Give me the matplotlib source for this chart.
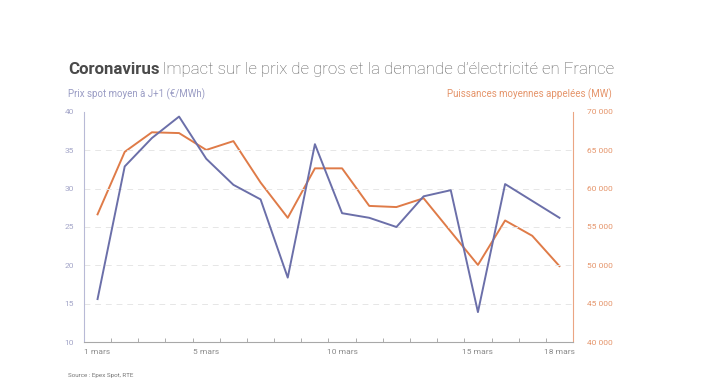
import numpy as np
import matplotlib.pyplot as plt

# données (1 au 18 mars)
jours = ['1 mars', '2 mars', '3 mars', '4 mars', '5 mars', '6 mars', '7 mars', '8 mars', '9 mars',
         '10 mars', '11 mars', '12 mars', '13 mars', '14 mars', '15 mars', '16 mars', '17 mars', '18 mars']
prix_spot = [15.6, 32.9, 36.6, 39.4, 33.9, 30.5, 28.6, 18.4, 35.8,
             26.8, 26.2, 25.0, 29.0, 29.8, 13.9, 30.6, 28.4, 26.2]
puissance = [56650, 64800, 67350, 67250, 65050, 66200, 60800, 56200, 62650,
             62650, 57750, 57600, 58750, 54400, 50050, 55850, 53850, 49900]
labels_affiches = {0: '1 mars', 4: '5 mars', 9: '10 mars', 14: '15 mars', 17: '18 mars'}

BLEU = '#6b6fa9'
ORANGE = '#df7b48'

plt.rcParams['font.family'] = ['Roboto', 'DejaVu Sans']

fig = plt.figure(figsize=(7.27, 3.91), dpi=100)
ax1 = fig.add_axes([0.1155, 0.1253, 0.6727, 0.5883])
ax2 = ax1.twinx()

x = np.arange(len(jours))
ax1.plot(x, prix_spot, color=BLEU, lw=1.4, zorder=3)
ax2.plot(x, puissance, color=ORANGE, lw=1.4, zorder=3)
ax1.set_zorder(ax2.get_zorder() + 1)
ax1.patch.set_visible(False)

ax1.set_xlim(-0.5, 17.5)
ax1.set_ylim(10, 40)
ax2.set_ylim(40000, 70000)
ax1.set_yticks(np.arange(10, 41, 5))
ax2.set_yticks(np.arange(40000, 70001, 5000))
ax2.set_yticklabels([f'{v:,}'.replace(',', ' ') for v in range(40000, 70001, 5000)])

# grille pointillée
for v in range(15, 40, 5):
    ax1.axhline(v, color='#e6e6e6', lw=0.7, ls=(0, (6, 5)), zorder=0)

ax1.set_xticks(list(labels_affiches.keys()))
ax1.set_xticklabels(list(labels_affiches.values()))
ax1.set_xticks(np.arange(0.5, 17, 1), minor=True)
ax1.tick_params(axis='x', which='major', length=0, labelsize=6, labelcolor='#8a8a8a', pad=5)
ax1.tick_params(axis='x', which='minor', length=3, direction='in', color='#a0a0a0')
ax1.tick_params(axis='y', length=0, labelsize=6, labelcolor='#a3a5c8', pad=7)
ax2.tick_params(axis='y', length=0, labelsize=6, labelcolor='#e5946a', pad=10)

for a in (ax1, ax2):
    for s in a.spines.values():
        s.set_visible(False)
ax1.spines['left'].set_visible(True)
ax1.spines['left'].set_color('#b8bad6')
ax1.spines['bottom'].set_visible(True)
ax1.spines['bottom'].set_color('#a8a8a8')
ax2.spines['right'].set_visible(True)
ax2.spines['right'].set_color('#eba583')

# titres
t = fig.text(0.0935, 0.81, 'Coronavirus', fontsize=12.2, fontweight='bold', color='#4a4a4a')
fig.canvas.draw()
bb = t.get_window_extent().transformed(fig.transFigure.inverted())
fig.text(bb.x1 + 0.004, 0.81, 'Impact sur le prix de gros et la demande d\u2019électricité en France',
         fontsize=12.2, fontweight='light', color='#606060')
fig.text(0.0935, 0.75, 'Prix spot moyen à J+1 (€/MWh)', fontsize=7, color='#9a9cc4')
fig.text(0.842, 0.75, 'Puissances moyennes appelées (MW)', fontsize=7, color='#e5946a', ha='right')
fig.text(0.0935, 0.035, 'Source : Epex Spot, RTE', fontsize=4.5, color='#777777')

plt.savefig('out.png', dpi=100)
